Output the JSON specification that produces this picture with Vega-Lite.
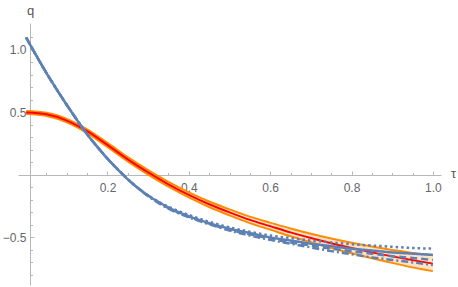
{
  "$schema": "https://vega.github.io/schema/vega-lite/v6.json",
  "width": 423,
  "height": 262,
  "autosize": {"type": "none"},
  "padding": {"left": 18, "top": 23, "right": 17, "bottom": 2},
  "config": {
    "view": {"stroke": null},
    "axis": {"grid": false, "labelFont": "Liberation Sans", "titleFont": "Liberation Sans", "labelColor": "#666666", "titleColor": "#555555", "labelFontSize": 12, "titleFontSize": 13, "titleFontWeight": "normal", "domainColor": "#b8b8b8", "tickColor": "#b8b8b8", "domainWidth": 1, "tickWidth": 1}
  },
  "datasets": {
    "band": [
      {"tau": 0.0, "lo": 0.488, "hi": 0.512},
      {"tau": 0.05, "lo": 0.472, "hi": 0.498},
      {"tau": 0.1, "lo": 0.421, "hi": 0.449},
      {"tau": 0.15, "lo": 0.335, "hi": 0.365},
      {"tau": 0.2, "lo": 0.224, "hi": 0.256},
      {"tau": 0.25, "lo": 0.108, "hi": 0.142},
      {"tau": 0.3, "lo": 0.002, "hi": 0.038},
      {"tau": 0.35, "lo": -0.094, "hi": -0.056},
      {"tau": 0.4, "lo": -0.18, "hi": -0.14},
      {"tau": 0.45, "lo": -0.257, "hi": -0.213},
      {"tau": 0.5, "lo": -0.324, "hi": -0.276},
      {"tau": 0.55, "lo": -0.386, "hi": -0.334},
      {"tau": 0.6, "lo": -0.438, "hi": -0.382},
      {"tau": 0.65, "lo": -0.491, "hi": -0.429},
      {"tau": 0.7, "lo": -0.539, "hi": -0.471},
      {"tau": 0.75, "lo": -0.585, "hi": -0.509},
      {"tau": 0.8, "lo": -0.627, "hi": -0.543},
      {"tau": 0.85, "lo": -0.667, "hi": -0.573},
      {"tau": 0.9, "lo": -0.704, "hi": -0.6},
      {"tau": 0.95, "lo": -0.74, "hi": -0.624},
      {"tau": 1.0, "lo": -0.77, "hi": -0.64}
    ],
    "red": [
      {"tau": 0.0, "q": 0.5},
      {"tau": 0.05, "q": 0.485},
      {"tau": 0.1, "q": 0.435},
      {"tau": 0.15, "q": 0.35},
      {"tau": 0.2, "q": 0.24},
      {"tau": 0.25, "q": 0.125},
      {"tau": 0.3, "q": 0.02},
      {"tau": 0.35, "q": -0.075},
      {"tau": 0.4, "q": -0.16},
      {"tau": 0.45, "q": -0.235},
      {"tau": 0.5, "q": -0.3},
      {"tau": 0.55, "q": -0.36},
      {"tau": 0.6, "q": -0.41},
      {"tau": 0.65, "q": -0.46},
      {"tau": 0.7, "q": -0.505},
      {"tau": 0.75, "q": -0.547},
      {"tau": 0.8, "q": -0.585},
      {"tau": 0.85, "q": -0.62},
      {"tau": 0.9, "q": -0.652},
      {"tau": 0.95, "q": -0.682},
      {"tau": 1.0, "q": -0.71}
    ],
    "blue": [
      {"s": "solid", "tau": 0.0, "q": 1.1}, {"s": "solid", "tau": 0.025, "q": 0.955}, {"s": "solid", "tau": 0.05, "q": 0.815}, {"s": "solid", "tau": 0.075, "q": 0.685}, {"s": "solid", "tau": 0.1, "q": 0.56}, {"s": "solid", "tau": 0.125, "q": 0.44}, {"s": "solid", "tau": 0.15, "q": 0.325}, {"s": "solid", "tau": 0.175, "q": 0.225}, {"s": "solid", "tau": 0.2, "q": 0.13}, {"s": "solid", "tau": 0.225, "q": 0.045}, {"s": "solid", "tau": 0.25, "q": -0.035}, {"s": "solid", "tau": 0.3, "q": -0.165}, {"s": "solid", "tau": 0.35, "q": -0.26},
      {"s": "solid", "tau": 0.4, "q": -0.33}, {"s": "solid", "tau": 0.45, "q": -0.385}, {"s": "solid", "tau": 0.5, "q": -0.43}, {"s": "solid", "tau": 0.55, "q": -0.465}, {"s": "solid", "tau": 0.6, "q": -0.5}, {"s": "solid", "tau": 0.65, "q": -0.525}, {"s": "solid", "tau": 0.7, "q": -0.55}, {"s": "solid", "tau": 0.75, "q": -0.57}, {"s": "solid", "tau": 0.8, "q": -0.59}, {"s": "solid", "tau": 0.85, "q": -0.605}, {"s": "solid", "tau": 0.9, "q": -0.62}, {"s": "solid", "tau": 0.95, "q": -0.63}, {"s": "solid", "tau": 1.0, "q": -0.64},
      {"s": "dotted", "tau": 0.0, "q": 1.1}, {"s": "dotted", "tau": 0.025, "q": 0.955}, {"s": "dotted", "tau": 0.05, "q": 0.815}, {"s": "dotted", "tau": 0.075, "q": 0.685}, {"s": "dotted", "tau": 0.1, "q": 0.56}, {"s": "dotted", "tau": 0.125, "q": 0.44}, {"s": "dotted", "tau": 0.15, "q": 0.325}, {"s": "dotted", "tau": 0.175, "q": 0.225}, {"s": "dotted", "tau": 0.2, "q": 0.13}, {"s": "dotted", "tau": 0.225, "q": 0.045}, {"s": "dotted", "tau": 0.25, "q": -0.035}, {"s": "dotted", "tau": 0.3, "q": -0.165}, {"s": "dotted", "tau": 0.35, "q": -0.255},
      {"s": "dotted", "tau": 0.4, "q": -0.32}, {"s": "dotted", "tau": 0.45, "q": -0.375}, {"s": "dotted", "tau": 0.5, "q": -0.42}, {"s": "dotted", "tau": 0.55, "q": -0.455}, {"s": "dotted", "tau": 0.6, "q": -0.485}, {"s": "dotted", "tau": 0.65, "q": -0.505}, {"s": "dotted", "tau": 0.7, "q": -0.525}, {"s": "dotted", "tau": 0.75, "q": -0.54}, {"s": "dotted", "tau": 0.8, "q": -0.555}, {"s": "dotted", "tau": 0.85, "q": -0.565}, {"s": "dotted", "tau": 0.9, "q": -0.575}, {"s": "dotted", "tau": 0.95, "q": -0.585}, {"s": "dotted", "tau": 1.0, "q": -0.59},
      {"s": "dashed", "tau": 0.0, "q": 1.1}, {"s": "dashed", "tau": 0.025, "q": 0.955}, {"s": "dashed", "tau": 0.05, "q": 0.815}, {"s": "dashed", "tau": 0.075, "q": 0.685}, {"s": "dashed", "tau": 0.1, "q": 0.56}, {"s": "dashed", "tau": 0.125, "q": 0.44}, {"s": "dashed", "tau": 0.15, "q": 0.325}, {"s": "dashed", "tau": 0.175, "q": 0.225}, {"s": "dashed", "tau": 0.2, "q": 0.13}, {"s": "dashed", "tau": 0.225, "q": 0.045}, {"s": "dashed", "tau": 0.25, "q": -0.035}, {"s": "dashed", "tau": 0.3, "q": -0.165}, {"s": "dashed", "tau": 0.35, "q": -0.265},
      {"s": "dashed", "tau": 0.4, "q": -0.335}, {"s": "dashed", "tau": 0.45, "q": -0.39}, {"s": "dashed", "tau": 0.5, "q": -0.44}, {"s": "dashed", "tau": 0.55, "q": -0.475}, {"s": "dashed", "tau": 0.6, "q": -0.51}, {"s": "dashed", "tau": 0.65, "q": -0.54}, {"s": "dashed", "tau": 0.7, "q": -0.565}, {"s": "dashed", "tau": 0.75, "q": -0.59}, {"s": "dashed", "tau": 0.8, "q": -0.61}, {"s": "dashed", "tau": 0.85, "q": -0.63}, {"s": "dashed", "tau": 0.9, "q": -0.65}, {"s": "dashed", "tau": 0.95, "q": -0.665}, {"s": "dashed", "tau": 1.0, "q": -0.68},
      {"s": "dashdot", "tau": 0.0, "q": 1.1}, {"s": "dashdot", "tau": 0.025, "q": 0.955}, {"s": "dashdot", "tau": 0.05, "q": 0.815}, {"s": "dashdot", "tau": 0.075, "q": 0.685}, {"s": "dashdot", "tau": 0.1, "q": 0.56}, {"s": "dashdot", "tau": 0.125, "q": 0.44}, {"s": "dashdot", "tau": 0.15, "q": 0.325}, {"s": "dashdot", "tau": 0.175, "q": 0.225}, {"s": "dashdot", "tau": 0.2, "q": 0.13}, {"s": "dashdot", "tau": 0.225, "q": 0.045}, {"s": "dashdot", "tau": 0.25, "q": -0.035}, {"s": "dashdot", "tau": 0.3, "q": -0.17}, {"s": "dashdot", "tau": 0.35, "q": -0.27},
      {"s": "dashdot", "tau": 0.4, "q": -0.34}, {"s": "dashdot", "tau": 0.45, "q": -0.395}, {"s": "dashdot", "tau": 0.5, "q": -0.445}, {"s": "dashdot", "tau": 0.55, "q": -0.485}, {"s": "dashdot", "tau": 0.6, "q": -0.52}, {"s": "dashdot", "tau": 0.65, "q": -0.55}, {"s": "dashdot", "tau": 0.7, "q": -0.58}, {"s": "dashdot", "tau": 0.75, "q": -0.61}, {"s": "dashdot", "tau": 0.8, "q": -0.635}, {"s": "dashdot", "tau": 0.85, "q": -0.66}, {"s": "dashdot", "tau": 0.9, "q": -0.68}, {"s": "dashdot", "tau": 0.95, "q": -0.7}, {"s": "dashdot", "tau": 1.0, "q": -0.72}
    ]
  },
  "layer": [
    {
      "data": {"name": "band"},
      "mark": {"type": "area", "color": "#FFE2C4", "opacity": 1, "interpolate": "monotone"},
      "encoding": {
        "x": {"field": "tau", "type": "quantitative", "scale": {"domain": [-0.02, 1.02], "nice": false, "zero": false},
          "axis": {"orient": "bottom", "offset": -110, "values": [0.2, 0.4, 0.6, 0.8, 1.0], "format": ".1f", "ticks": false, "tickSize": 0, "labelPadding": 7, "domain": true, "title": "τ", "titleAngle": 0, "titleX": 435, "titleY": -2, "titleAlign": "center", "titleBaseline": "middle"}},
        "y": {"field": "lo", "type": "quantitative", "scale": {"domain": [-0.881, 1.216], "nice": false, "zero": false},
          "axis": {"orient": "left", "offset": -12, "values": [-0.5, 0.5, 1.0], "format": ".1f", "ticks": false, "tickSize": 0, "labelPadding": 4, "domain": true, "title": "q", "titleAngle": 0, "titleX": 0, "titleY": -13, "titleAlign": "center", "titleBaseline": "middle"}},
        "y2": {"field": "hi"}
      }
    },
    {
      "data": {"name": "band"},
      "mark": {"type": "line", "color": "#FF8C00", "strokeWidth": 2, "interpolate": "monotone"},
      "encoding": {
        "x": {"field": "tau", "type": "quantitative", "axis": {"orient": "bottom", "offset": -110, "values": [0.2, 0.4, 0.6, 0.8, 1.0], "labels": false, "domain": false, "ticks": true, "tickSize": -4, "title": null}},
        "y": {"field": "hi", "type": "quantitative", "axis": {"orient": "left", "offset": -12, "values": [-0.5, 0.5, 1.0], "labels": false, "domain": false, "ticks": true, "tickSize": -4, "title": null}}
      }
    },
    {
      "data": {"name": "band"},
      "mark": {"type": "line", "color": "#FF8C00", "strokeWidth": 2, "interpolate": "monotone"},
      "encoding": {
        "x": {"field": "tau", "type": "quantitative", "axis": {"orient": "bottom", "offset": -110, "values": [0.05, 0.1, 0.15, 0.25, 0.3, 0.35, 0.45, 0.5, 0.55, 0.65, 0.7, 0.75, 0.85, 0.9, 0.95], "labels": false, "domain": false, "ticks": true, "tickSize": -2.5, "title": null}},
        "y": {"field": "lo", "type": "quantitative", "axis": {"orient": "left", "offset": -12, "values": [-0.8, -0.7, -0.6, -0.4, -0.3, -0.2, -0.1, 0.1, 0.2, 0.3, 0.4, 0.6, 0.7, 0.8, 0.9, 1.1], "labels": false, "domain": false, "ticks": true, "tickSize": -2.5, "title": null}}
      }
    },
    {
      "data": {"name": "red"},
      "mark": {"type": "line", "color": "#FF0000", "strokeWidth": 2, "interpolate": "monotone"},
      "encoding": {
        "x": {"field": "tau", "type": "quantitative", "axis": null},
        "y": {"field": "q", "type": "quantitative", "axis": null}
      }
    },
    {
      "data": {"name": "blue"},
      "mark": {"type": "line", "color": "#5E81B5", "strokeWidth": 2.5, "interpolate": "monotone"},
      "encoding": {
        "x": {"field": "tau", "type": "quantitative", "axis": null},
        "y": {"field": "q", "type": "quantitative", "axis": null},
        "strokeDash": {"field": "s", "type": "nominal", "legend": null, "scale": {"domain": ["solid", "dotted", "dashed", "dashdot"], "range": [[1, 0], [2.5, 3], [7, 4], [7, 3, 2, 3]]}}
      }
    }
  ],
  "resolve": {"axis": {"x": "independent", "y": "independent"}}
}
